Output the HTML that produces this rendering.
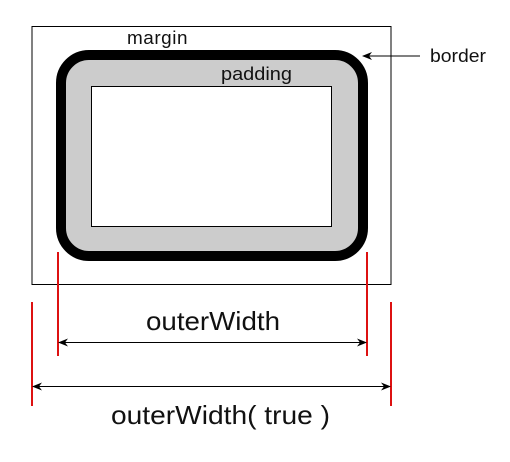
<!DOCTYPE html>
<html><head><meta charset="utf-8"><style>html,body{margin:0;padding:0;background:#fff}svg{display:block}text{font-family:"Liberation Sans",Arial,sans-serif;fill:#111}</style></head>
<body>
<svg width="510" height="462" viewBox="0 0 510 462">
<defs>
<marker id="ah" markerWidth="10" markerHeight="8" refX="9" refY="4" orient="auto-start-reverse" markerUnits="userSpaceOnUse"><path d="M0,0 L10,4 L0,8 L3,4 Z" fill="#000"/></marker>
</defs>
<rect x="32" y="26.5" width="359" height="258" fill="none" stroke="#000" stroke-width="1"/>
<rect x="61" y="55" width="302" height="201" rx="28" ry="28" fill="#cccccc" stroke="#000" stroke-width="10"/>
<rect x="91.5" y="86.5" width="240" height="140" fill="#fff" stroke="#000" stroke-width="1"/>
<text x="127" y="44" font-size="18" letter-spacing="0.5" textLength="61" lengthAdjust="spacingAndGlyphs">margin</text>
<text x="221" y="80" font-size="18" textLength="71" lengthAdjust="spacingAndGlyphs">padding</text>
<text x="430" y="62" font-size="18" textLength="56" lengthAdjust="spacingAndGlyphs">border</text>
<line x1="420" y1="56" x2="363" y2="56" stroke="#000" stroke-width="1" marker-end="url(#ah)"/>
<g stroke="#dd1111" stroke-width="2">
<line x1="58" y1="252" x2="58" y2="356"/>
<line x1="367" y1="252" x2="367" y2="356"/>
<line x1="32" y1="302" x2="32" y2="406"/>
<line x1="391" y1="302" x2="391" y2="406"/>
</g>
<line x1="59" y1="342.5" x2="366" y2="342.5" stroke="#000" stroke-width="1" marker-start="url(#ah)" marker-end="url(#ah)"/>
<line x1="33" y1="386.5" x2="390" y2="386.5" stroke="#000" stroke-width="1" marker-start="url(#ah)" marker-end="url(#ah)"/>
<text x="146" y="330" font-size="26" textLength="134" lengthAdjust="spacingAndGlyphs">outerWidth</text>
<text x="111" y="424" font-size="26" textLength="219" lengthAdjust="spacingAndGlyphs">outerWidth( true )</text>
</svg>
</body></html>
